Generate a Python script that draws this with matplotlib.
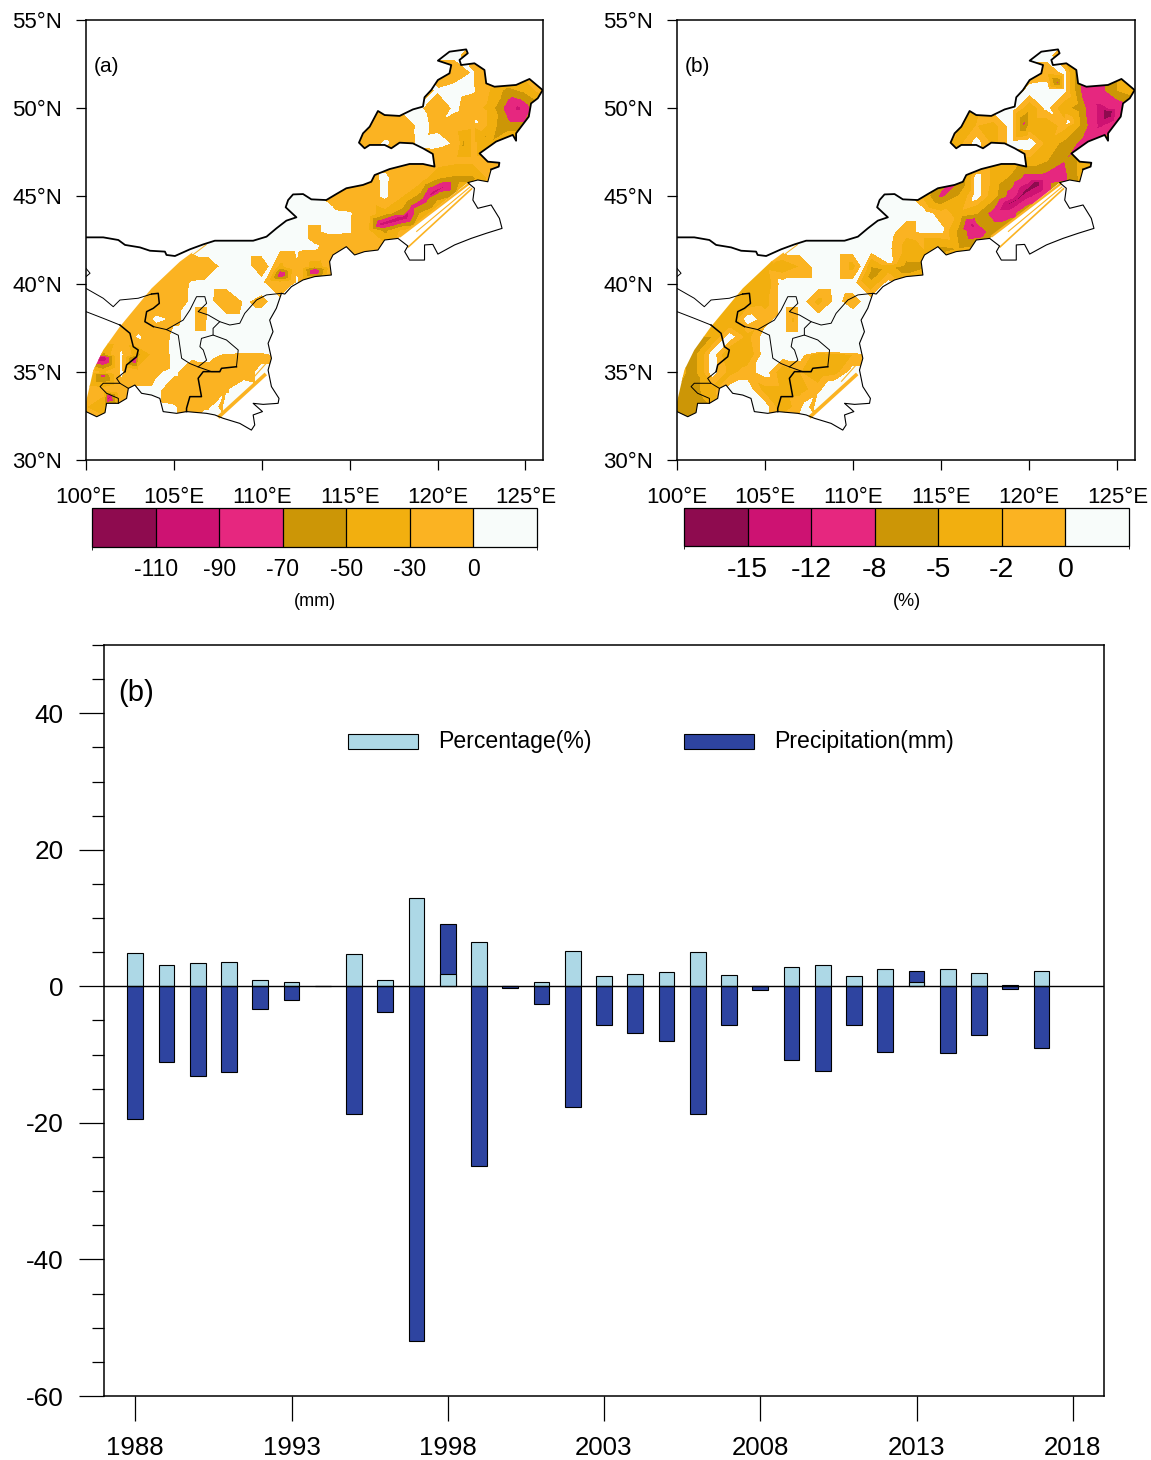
import matplotlib
matplotlib.use("Agg")
import matplotlib.pyplot as plt
import matplotlib.patches as patches
from matplotlib.colors import ListedColormap, BoundaryNorm
from matplotlib.colorbar import ColorbarBase

plt.rcParams["font.family"] = ["Liberation Sans", "DejaVu Sans"]
plt.rcParams["axes.unicode_minus"] = False

# bars
years = list(range(1988, 2018))
percentage = [4.9, 3.1, 3.4, 3.5, 1.0, 0.6, 0.1, 4.7, 1.0, 13.0, 1.8, 6.5, 0.1, 0.7, 5.2,
              1.5, 1.8, 2.1, 5.1, 1.6, 0.1, 2.8, 3.1, 1.5, 2.6, 0.6, 2.6, 2.0, 0.2, 2.3]
precipitation = [-19.5, -11.1, -13.1, -12.5, -3.3, -2.0, 0.0, -18.7, -3.7, -52.0, 9.2, -26.3, -0.3, -2.6, -17.7,
                 -5.6, -6.8, -8.0, -18.7, -5.6, -0.5, -10.8, -12.4, -5.6, -9.6, 2.2, -9.7, -7.1, -0.4, -9.0]

# region border, lon/lat
outline = [(100,42.65),(100.98,42.65),(101.84,42.5),(102.22,42.22),(103.07,42.08),(103.64,41.89),(104.49,41.84),
    (104.58,41.65),(105.06,41.59),(105.91,41.97),(106.67,42.25),(107.33,42.46),(108.56,42.46),(109.51,42.46),
    (110.27,42.69),(110.83,43.16),(111.4,43.6),(111.97,43.79),(111.69,44.05),(111.36,44.36),(111.5,44.77),
    (111.78,45.09),(112.35,45.11),(112.82,44.81),(113.67,44.77),(114.24,45.11),(114.81,45.44),(115.76,45.63),
    (116.23,45.81),(116.42,46.19),(117.27,46.53),(118.41,46.82),(119.17,46.82),(119.83,46.67),(119.73,47.39),
    (119.17,47.71),(118.6,47.99),(117.84,48.03),(117.37,47.71),(116.99,47.9),(116.14,47.9),(115.85,47.71),
    (115.53,48.03),(115.76,48.56),(116.14,48.94),(116.61,49.83),(116.99,49.6),(117.84,49.55),(118.6,49.92),
    (119.17,50.08),(119.26,50.61),(119.64,51.02),(120.02,51.59),(120.68,51.97),(120.78,52.44),(120.02,52.69),
    (120.68,53.2),(121.63,53.33),(121.72,53.11),(121.25,52.73),(121.34,52.44),(122.1,52.54),(122.67,52.16),
    (122.77,51.4),(123.24,51.21),(124.47,51.31),(125.23,51.65),(125.98,51.02),(125.7,50.55),(125.32,50.26),
    (125.19,49.51),(124.47,48.56),(124.47,48.14),(124.28,48.47),(123.33,48.09),(122.39,47.42),(122.86,46.95),
    (123.52,46.89),(123.48,46.67),(123.05,46.51),(122.86,45.81),(122.29,45.91),(121.72,45.76),(122.1,45.44),
    (122.01,44.77),(122.29,44.3),(123.05,44.49),(123.52,43.73),(123.67,43.16),(122.77,42.88),(121.91,42.59),
    (120.97,42.22),(120.02,41.7),(119.73,42.25),(119.26,42.22),(119.26,41.36),(118.41,41.36),(118.13,41.84),
    (118.31,42.16),(117.75,42.59),(116.99,42.5),(116.61,41.93),(115.85,41.84),(115.28,41.65),(114.81,42.12),
    (114.05,41.65),(113.86,41.27),(113.96,40.51),(113.01,40.42),(112.35,40.23),(111.69,39.85),(111.31,39.43),
    (111.12,39.47),(110.83,38.62),(110.45,37.95),(110.64,37.29),(110.36,36.63),(110.55,35.78),(110.36,35.11),
    (110.55,34.17),(110.98,33.5),(110.93,33.22),(110.08,33.16),(109.51,33.22),(110.04,32.75),(109.51,32.56),
    (109.6,31.99),(109.41,31.7),(108.75,32.08),(107.8,32.37),(107.33,32.56),(106.86,32.65),(105.72,32.75),
    (105.15,32.65),(104.39,32.75),(104.2,33.5),(103.73,33.69),(103.16,33.79),(102.78,34.26),(102.41,34.07),
    (102.31,33.5),(101.84,33.22),(101.17,33.22),(101.08,32.69),(100.61,32.46),(100,32.75)]
# where the data stops to the north west
nw_edge = [(100,33.3),(100.42,35.11),(100.98,36.25),(101.93,37.58),(103.73,39.75),(105.34,41.27)]

# inner borders
thick_lines = [
    [(103.73,39.43),(104.11,39.47),(104.17,38.9),(103.83,38.62),(103.45,38.43),(103.35,37.86),(103.83,37.58)],
    [(108.56,35.3),(107.71,35.21),(107.61,35.02),(106.67,35.02),(106.38,34.64),(106.57,33.6),(105.91,33.6),(105.72,32.94),(105.72,32.75)],
    [(101.93,37.67),(102.5,37.2),(102.69,36.44),(102.97,36.25),(102.88,35.87),(102.31,35.4),(102.22,35.02)],
]
thin_lines = [
    [(103.83,37.58),(104.58,37.41),(105.25,37.09),(105.44,35.78),(105.91,35.48),(106.38,35.29),(106.86,35.67),(106.67,36.25),
     (106.48,36.44),(106.57,36.91),(107.23,37.1),(107.99,36.82),(108.66,36.25),(108.56,35.3)],
    [(104.58,37.41),(105.53,37.95),(105.91,38.52),(106.29,39.28),(106.76,39.28),(106.86,38.9),(106.38,38.43),(106.95,38.24),
     (107.61,37.86),(108.18,37.67),(108.75,37.77),(109.03,38.33),(109.7,39.09),(110.27,39.38),(111.12,39.47)],
    [(107.61,37.86),(107.23,37.48),(107.23,37.1)],
    [(106.38,35.29),(107.14,35.02),(107.61,35.02)],
    [(100,38.43),(100.98,38.05),(101.93,37.67)],
    [(102.22,35.02),(101.74,34.64),(101.93,34.36),(100.98,34.36),(100.8,34.17),(101.17,33.79),(101.84,33.5),(101.84,33.22)],
    [(101.93,34.36),(102.41,34.07)],
    [(100,39.75),(100.98,39.19),(101.55,38.71),(101.93,39.09),(102.97,39.19),(103.73,39.43)],
    [(100,40.89),(100.23,40.61),(100,40.42)],
]
# thin slivers the interpolation left on the south east side
slivers = [
    ([(121.82,45.72),(117.84,42.69)], 1.6),
    ([(121.97,45.44),(118.31,42.08)], 1.2),
    ([(121.87,45.53),(118.79,42.97)], 0.8),
    ([(110.23,34.89),(107.52,32.42)], 2.6),
    ([(110.51,35.78),(109.32,34.45)], 0.8),
    ([(106.86,42.25),(105.44,41.17)], 0.7),
]

map_lons = list(range(100, 127))
map_lats = list(range(54, 31, -1))

# panel a, mm
field_a = [
    [5]*27,
    [5]*22+[-15,-15,5,5,5],
    [5]*20+[-15,-15,1,-20,-20,-20,-20],
    [5]*19+[-15,2,10,3,-32,-58,-45,-20],
    [5]*16+[-15,-15,5,3,-20,5,-20,-40,-82,-82,-30],
    [5]*16+[-10,-15,-15,5,-5,-20,-25,-42,-65,-65,-30],
    [5]*15+[-15,-15,3,-12,4,6,-3,-25,-48,-20,-20,-20],
    [5]*15+[-15,-15,-15,-15,-15,-20,-25,-25,-25,-15,-15,-15],
    [5]*15+[-15,-15,6,-20,-20,-50,-55,-55,-25,-15,-15,-15],
    [5]*13+[2,-8,-25,-18,6,-30,-58,-58,-50,-35,-15,-15,-15,-15],
    [5]*14+[5,2,-15,-45,-60,-50,-30,-15,-15,-15,-15,-15,-15],
    [5]*13+[-3,5,2,-25,-55,-25,-15,-15,-15,-15,-15,-15,-15,-15],
    [5]*12+[4,1,-5,-20,-22,-20,-15,-15,-15,-15,-15,-15,-15,-15,-15],
    [-15]*6+[-18,-6,4,5,-8,-40,-4,-45,-15,-5]+[5]*11,
    [-12]*5+[-20,3,5,5,5,4,-15,3]+[5]*14,
    [-12]*4+[-15,-18,4,4,-15,1,-3,4]+[5]*15,
    [-12]*3+[-15,3,-3,4,4]+[5]*19,
    [-15]*3+[2,-15,4]+[5]*21,
    [-15,-55,3,-55,-18,5,5,5,-3,-6,-6]+[5]*16,
    [-15,-35,2,-20,-3,4,-15,-8,-20,-10,5]+[5]*16,
    [-15,-22,-5,4,5,-15,-15,-20,-2,10]+[5]*17,
    [-30,-45,-15,5,5,2,-15,-1,8,8]+[5]*17,
    [-15,-15]+[5]*25,
]
extra_a = [(124.6,50,-95),(121.45,48,-55),(122.7,48.4,-52),(122.2,49.2,3),(120.5,45.6,-92),(119.75,45.15,-100),
    (119.2,44.75,-80),(118.6,44.4,-78),(118.1,43.8,-105),(116.8,43.4,-100),(113.9,42.75,-3),(110.55,41,2),
    (111.1,40.55,-95),(113,40.75,-95),(106.6,37.95,-10),(100.95,35.8,-112),(102.8,35.7,-95),(100.98,34.8,-80),(101.3,33.55,-100),
    (108,36.2,5),(109,36.2,5),(110,36.2,5),(107.35,33,3),(107.7,33,-5)]

# panel b, %
field_b = [
    [1]*27,
    [1]*22+[-3,-3,1,1,1],
    [1]*20+[-2,-2,0.5,-9,-9,-5,-5],
    [1]*19+[-3,1,1.5,0.5,-9,-9.5,-5,-3],
    [1]*16+[-3,-3,1,1,-4,0.5,-4,-7,-13,-11,-4],
    [1]*16+[-2,-2,-3,1,-4,-4,-1,-6,-13,-9,-4],
    [1]*15+[-3,-3,1,-3,1,1.5,-3,-6,-9,-5,-4,-4],
    [1]*16+[-3,-3,-3,-3,-3,-5,-8,-4,-3,-3,-3],
    [1]*15+[-6,-9,1,-3,-6,-10,-10,-9,-4,-3,-3,-3],
    [1]*13+[0.5,-3,-9,-5,1,-4,-10,-13,-9,-3,-3,-3,-3,-3],
    [1]*15+[-1,-3,-5,-10,-10,-3,-3,-3,-3,-3,-3,-3],
    [1]*13+[-1.5,1,0.5,-6,-11,-6,-3,-3,-3,-3,-3,-3,-3,-3],
    [1]*12+[0.5,-3,-2,-6,-5,-4,-3,-3,-3,-3,-3,-3,-3,-3,-3],
    [-3]*6+[-4,-2,1,1,-3,-5,-4,-6,-6,-2]+[1]*11,
    [-3]*5+[-4,1,1,1,1,1,-4]+[1]*15,
    [-4]*5+[-3,1,1,-3,0.5,-1]+[1]*16,
    [-5]*4+[1,-1]+[1]*21,
    [-5]*3+[1,-3]+[1]*22,
    [-5,-6,1,-5,-4,1,1,1,-4,-3,-2]+[1]*16,
    [-4,-6,1,-3,-1,1,-4,-2,-4,-3,1]+[1]*16,
    [-5,-6,-3,1,1,-3,-3,-3,-1,3]+[1]*17,
    [-7,-7,-5,1,1,1,-4,-0.5,3,3]+[1]*17,
    [-7,-7]+[1]*25,
]
extra_b = [(124.5,49.75,-18),(121.6,51.45,-9),(119.7,49.1,-9),(122.2,49.2,0.5),(120.4,45.75,-17),(119.75,45.25,-16),
    (119.3,44.8,-15.5),(118.8,44.55,-15.5),(116.8,43.35,-13.5),(113.9,42.75,-1.5),(110.55,41,0.5),(112.1,41.25,0.5),
    (111.1,40.55,-7),(113,40.8,-7),(106.6,37.95,-2.5),(108,36.2,1),(109,36.2,1),(110,36.2,1),(107.35,33,1),(107.7,33,-2)]

levels_a = [-110, -90, -70, -50, -30, 0]
levels_b = [-15, -12, -8, -5, -2, 0]
shades = ["#8E0B4F", "#CD1272", "#E6277F", "#CC9606", "#F2AF0F", "#FBB322", "#F8FCFA"]

W, H = 1151, 1460
fig = plt.figure(figsize=(W/100, H/100), dpi=100)

def px_axes(x0, x1, y0, y1):
    return fig.add_axes([x0/W, 1-y1/H, (x1-x0)/W, (y1-y0)/H])

def part(a, b):
    return outline[outline.index(a):outline.index(b)+1]

# area that really has data
data_area = (nw_edge + part((106.67,42.25), (121.72,45.76)) + part((117.75,42.59), (110.36,35.11))
             + [(110.27,34.83),(107.52,32.5)] + part((107.33,32.56), (100,32.75)))

def draw_map(box, field, extra, levels, name, unit, tick_size, tick_pad, cbar_box, unit_y):
    ax = px_axes(*box)
    xs, ys, zs = [], [], []
    for j in range(len(map_lats)):
        for i in range(len(map_lons)):
            xs.append(map_lons[i]); ys.append(map_lats[j]); zs.append(field[j][i])
    for p in extra:
        xs.append(p[0]); ys.append(p[1]); zs.append(p[2])
    cs = ax.tricontourf(xs, ys, zs, levels=levels, colors=shades[1:-1], extend="both")
    cs.cmap.set_under(shades[0])
    cs.cmap.set_over(shades[-1])
    cs.changed()
    clip = patches.Polygon(data_area, closed=True, transform=ax.transData, facecolor="none", edgecolor="none")
    ax.add_patch(clip)
    cs.set_clip_path(clip)
    for s in slivers:
        ax.plot([q[0] for q in s[0]], [q[1] for q in s[0]], color=shades[5], lw=s[1], solid_capstyle="butt")
    ax.plot([q[0] for q in outline[:80]], [q[1] for q in outline[:80]], color="k", lw=1.3)
    ax.plot([q[0] for q in outline[79:]], [q[1] for q in outline[79:]], color="k", lw=0.8)
    for l in thick_lines:
        ax.plot([q[0] for q in l], [q[1] for q in l], color="k", lw=1.1)
    for l in thin_lines:
        ax.plot([q[0] for q in l], [q[1] for q in l], color="k", lw=0.7)
    ax.set_xlim(100, 126)
    ax.set_ylim(30, 55)
    ax.set_xticks(range(100, 126, 5))
    ax.set_xticklabels(["%d°E" % v for v in range(100, 126, 5)], fontsize=16)
    ax.set_yticks(range(30, 56, 5))
    ax.set_yticklabels(["%d°N" % v for v in range(30, 56, 5)], fontsize=16)
    ax.tick_params(axis="x", length=7.2, width=0.9, pad=12)
    ax.tick_params(axis="y", length=7.2, width=0.9, pad=10)
    for s in ax.spines.values():
        s.set_linewidth(1.1)
    ax.text(0.0165, 0.895, name, transform=ax.transAxes, fontsize=15, va="center")

    cax = px_axes(*cbar_box)
    bounds = [levels[0]-20] + levels + [levels[-1]+20]
    cb = ColorbarBase(cax, cmap=ListedColormap(shades), norm=BoundaryNorm(bounds, 7), orientation="horizontal",
                      spacing="uniform", ticks=levels, drawedges=True)
    cb.ax.set_xticklabels(["%d" % v for v in levels], fontsize=tick_size)
    cb.ax.tick_params(length=0, pad=tick_pad)
    cb.outline.set_linewidth(0.9)
    cb.dividers.set_linewidth(0.9)
    fig.text((cbar_box[0]+cbar_box[1])/2/W, 1-unit_y/H, unit, fontsize=13, ha="center", va="center")

draw_map((86, 543, 20, 460), field_a, extra_a, levels_a, "(a)", "(mm)", 16.5, 8, (92, 537, 508, 547), 601)
draw_map((677, 1135, 20, 460), field_b, extra_b, levels_b, "(b)", "(%)", 20.5, 8, (684, 1129, 508, 546), 602)

# bars
ax = px_axes(104, 1104, 645, 1396)
ax.bar(years, precipitation, 0.5, color="#2E44A0", edgecolor="k", linewidth=0.8, zorder=2)
ax.bar(years, percentage, 0.5, color="#ADD8E6", edgecolor="k", linewidth=0.8, zorder=3)
ax.axhline(0, color="k", lw=1, zorder=4)
ax.set_xlim(1987, 2019)
ax.set_ylim(-60, 50)
ax.set_xticks(range(1988, 2019, 5))
ax.set_xticklabels([str(v) for v in range(1988, 2019, 5)], fontsize=18.6)
ax.set_yticks(range(-60, 41, 20))
ax.set_yticklabels([str(v) for v in range(-60, 41, 20)], fontsize=18.8)
ax.set_yticks(range(-60, 51, 5), minor=True)
ax.tick_params(axis="both", which="major", length=18, width=0.9, pad=11)
ax.tick_params(axis="y", which="minor", length=9, width=0.9)
for s in ax.spines.values():
    s.set_linewidth(1.1)
ax.text(0.014, 0.936, "(b)", transform=ax.transAxes, fontsize=21, va="center")
ax.add_patch(patches.Rectangle((0.244, 0.8615), 0.07, 0.02, transform=ax.transAxes, facecolor="#ADD8E6", edgecolor="k", lw=0.8))
ax.text(0.334, 0.871, "Percentage(%)", transform=ax.transAxes, fontsize=16.6, va="center")
ax.add_patch(patches.Rectangle((0.58, 0.8615), 0.07, 0.02, transform=ax.transAxes, facecolor="#2E44A0", edgecolor="k", lw=0.8))
ax.text(0.67, 0.871, "Precipitation(mm)", transform=ax.transAxes, fontsize=16.6, va="center")

fig.savefig("out.png", dpi=100)
